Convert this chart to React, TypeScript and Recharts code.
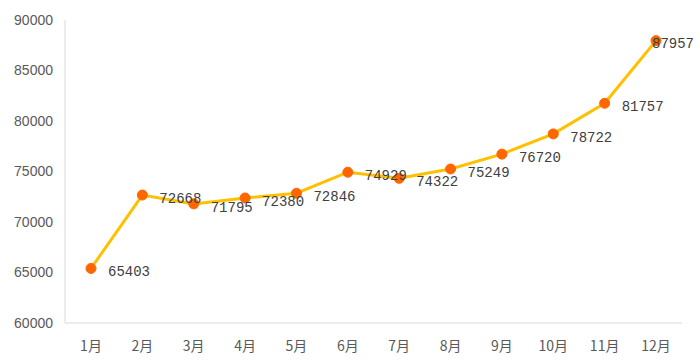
import React from "react";
import { LineChart, Line, XAxis, YAxis, LabelList } from "recharts";

const months = ["1月", "2月", "3月", "4月", "5月", "6月", "7月", "8月", "9月", "10月", "11月", "12月"];
const values = [65403, 72668, 71795, 72380, 72846, 74929, 74322, 75249, 76720, 78722, 81757, 87957];
const yTicks = [60000, 65000, 70000, 75000, 80000, 85000, 90000];

const data = months.map((m, i) => ({ month: m, value: values[i] }));

const CHART_W = 700;
const LABEL_W = 42;

const ValueLabel = (props: any) => {
  const { x, y, value } = props;
  const lx = Math.min(x + 17, CHART_W - 6 - LABEL_W);
  return (
    <text
      x={lx}
      y={y + 4}
      dominantBaseline="middle"
      textAnchor="start"
      fontFamily="'Liberation Mono', monospace"
      fontSize={14}
      fill="#404040"
    >
      {value}
    </text>
  );
};

export default function App() {
  return (
    <div style={{ position: "absolute", left: 0, top: 0, width: 700, height: 364, background: "#fff" }}>
      <LineChart
        width={CHART_W}
        height={364}
        data={data}
        margin={{ top: 20, right: 18, left: 0, bottom: 0 }}
      >
        <XAxis
          dataKey="month"
          height={41}
          padding={{ left: 26, right: 26 }}
          tickLine={false}
          axisLine={{ stroke: "#d9d9d9", strokeWidth: 1 }}
          tick={{ fill: "#595959", fontSize: 14, fontFamily: "'Noto Sans CJK SC', sans-serif" }}
          tickMargin={12}
          interval={0}
        />
        <YAxis
          width={65}
          domain={[60000, 90000]}
          ticks={yTicks}
          tickLine={false}
          axisLine={{ stroke: "#d9d9d9", strokeWidth: 1 }}
          tick={{ fill: "#595959", fontSize: 14, fontFamily: "'Liberation Sans', Arial, sans-serif" }}
          tickMargin={6}
          interval={0}
        />
        <Line
          type="linear"
          dataKey="value"
          stroke="#FFC000"
          strokeWidth={3}
          dot={{ r: 5, fill: "#FF6600", stroke: "#FF6600", strokeWidth: 1 }}
          activeDot={false}
          isAnimationActive={false}
        >
          <LabelList dataKey="value" content={<ValueLabel />} />
        </Line>
      </LineChart>
    </div>
  );
}
